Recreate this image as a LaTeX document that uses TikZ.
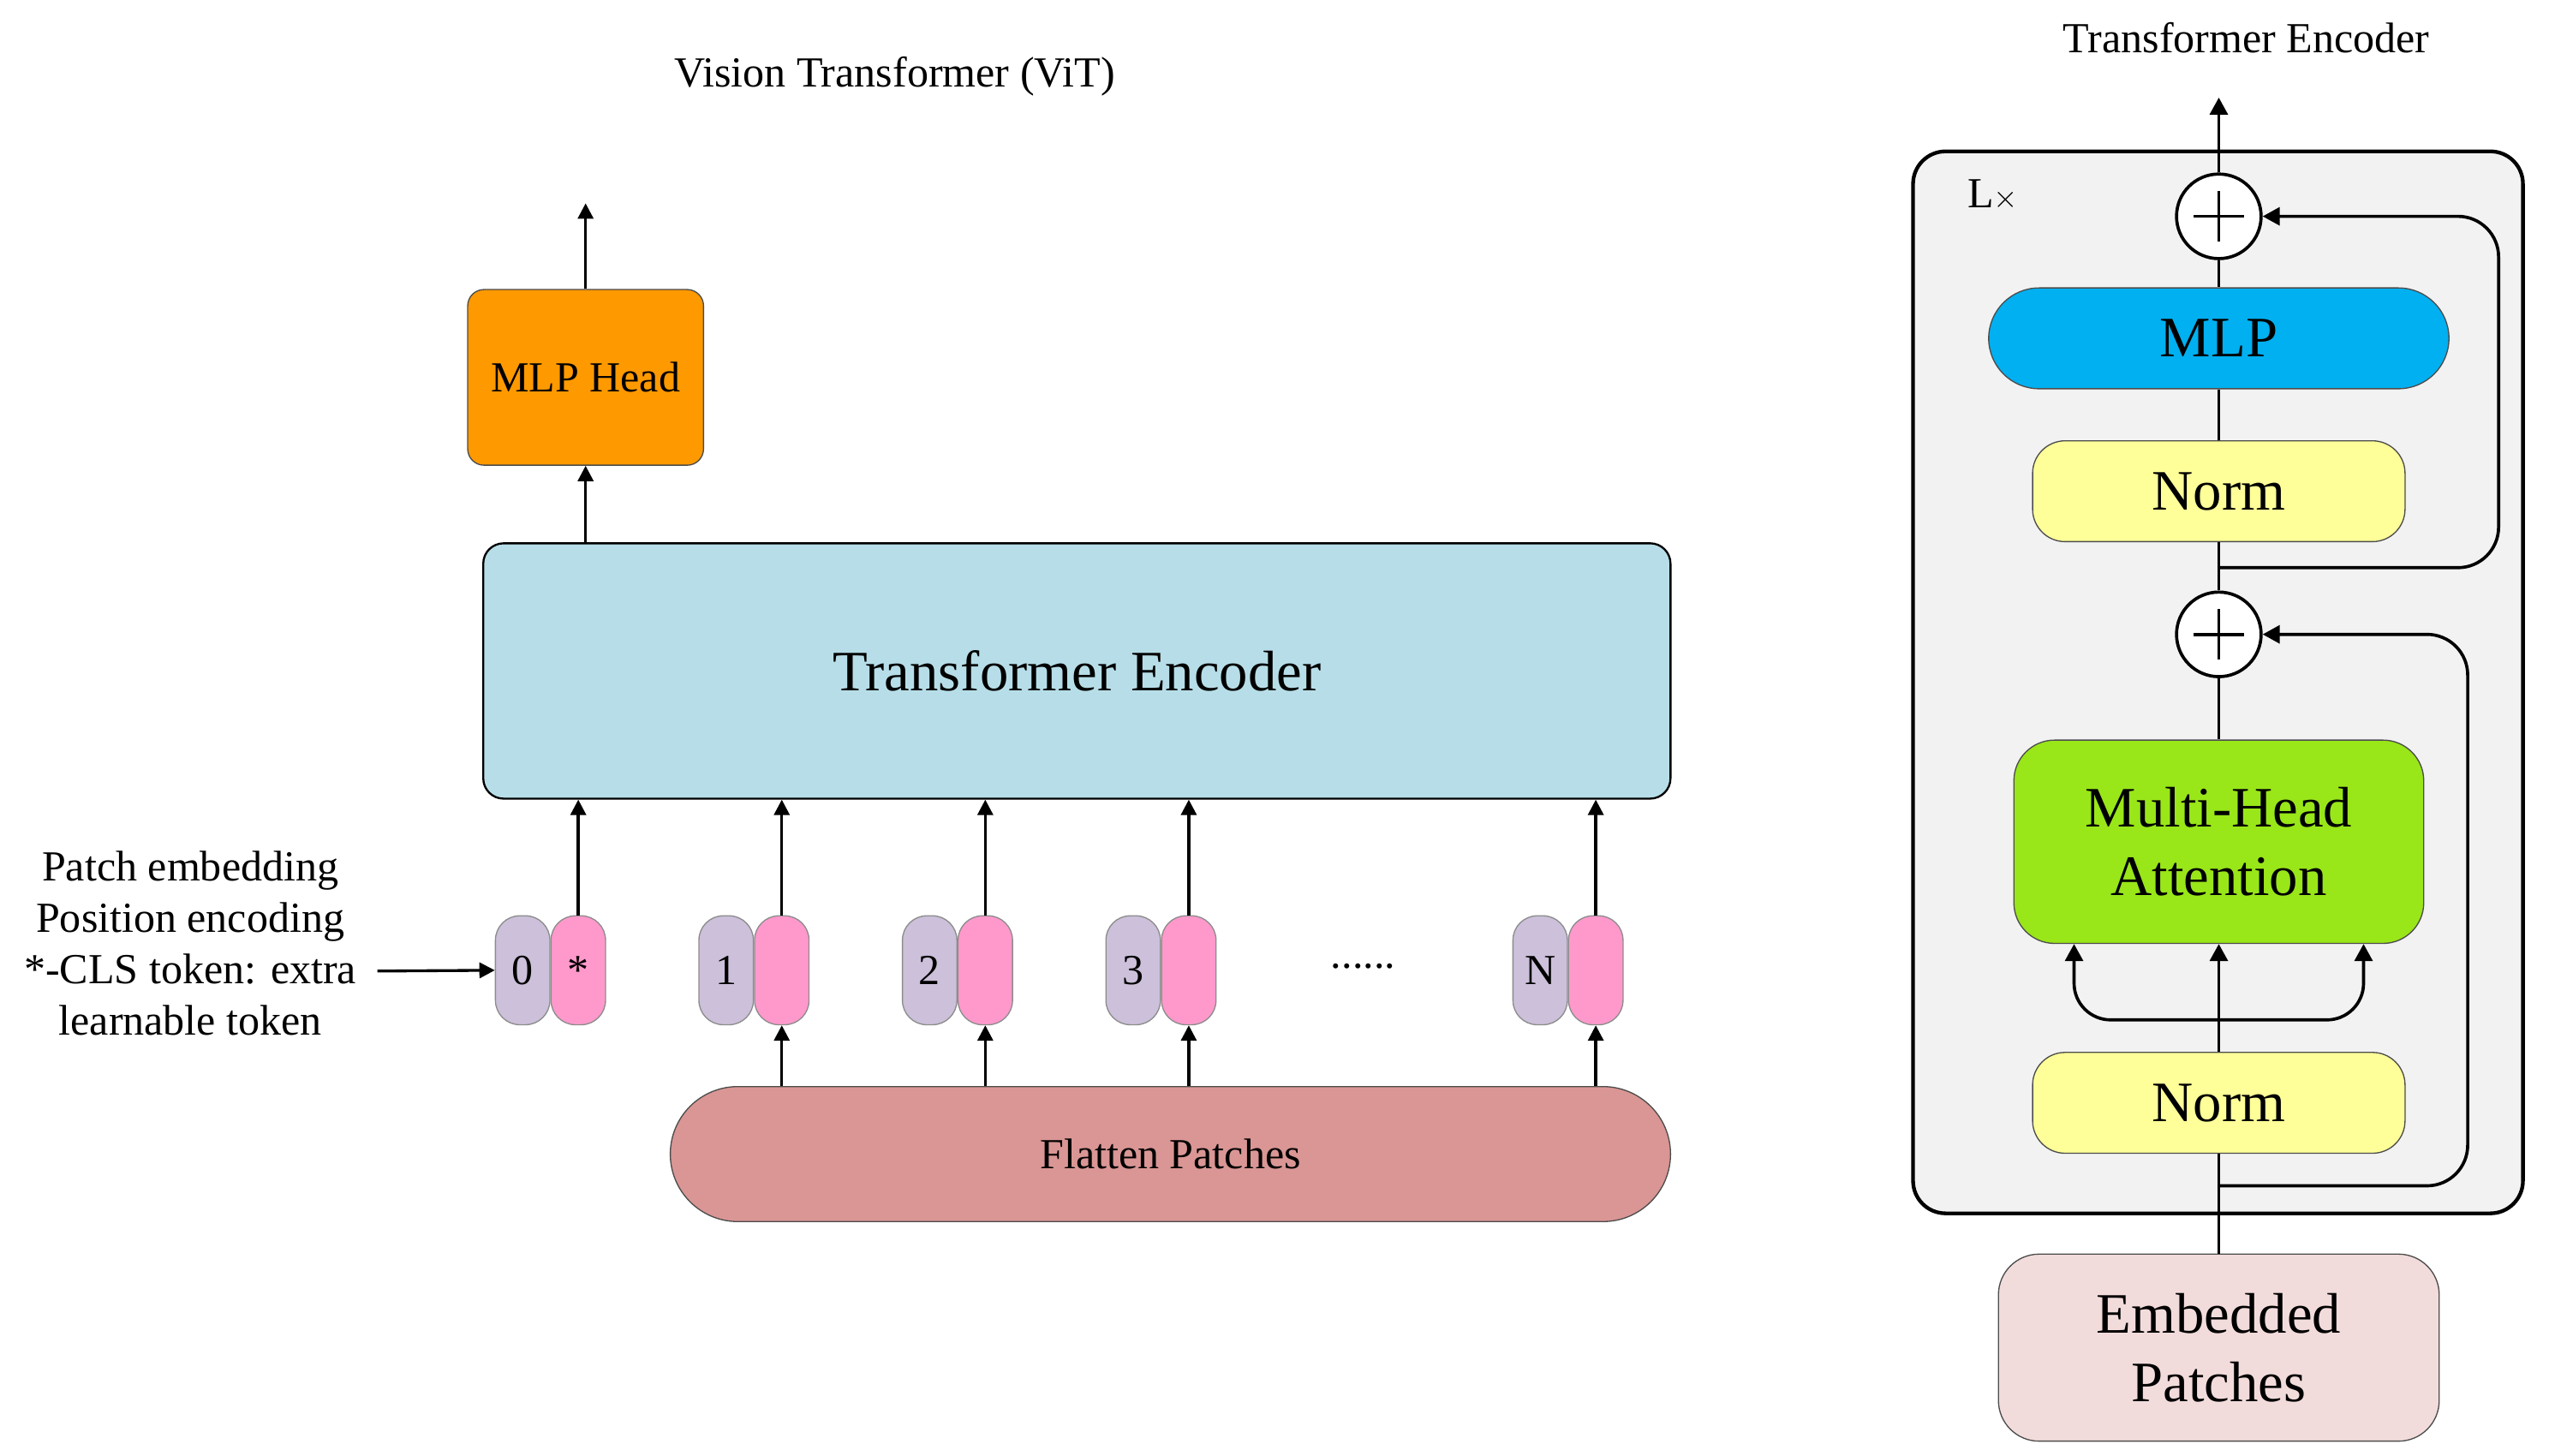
\documentclass[tikz,border=0pt]{standalone}
\usepackage{fontspec}
\setmainfont{Liberation Serif}
\usetikzlibrary{positioning, arrows.meta}
\definecolor{headorange}{HTML}{FF9900}
\definecolor{encblue}{HTML}{B7DEE8}
\definecolor{flatred}{HTML}{D99694}
\definecolor{pospurple}{HTML}{CCC0DA}
\definecolor{tokpink}{HTML}{FF99CC}
\definecolor{encgray}{HTML}{F2F2F2}
\definecolor{mlpblue}{HTML}{00B0F0}
\definecolor{normyellow}{HTML}{FFFF99}
\definecolor{attgreen}{HTML}{99E619}
\definecolor{embpink}{HTML}{F2DCDB}
\tikzset{flecha/.style={line width=1pt,-{Triangle[length=0.19cm,width=0.19cm]}}}
\tikzset{flecha2/.style={line width=1.1pt,-{Triangle[length=0.21cm,width=0.22cm]}}}
\tikzset{linea/.style={line width=1.1pt}}
\tikzset{caja/.style={draw=black!70,line width=0.4pt}}
\tikzset{grande/.style={font=\fontsize{20}{24}\selectfont}}
\tikzset{ficha/.style={draw=black!45,line width=0.4pt,minimum width=0.67cm,minimum height=1.34cm,rounded corners=0.3cm}}
\tikzset{suma/.style={circle,draw,fill=white,line width=1.1pt,minimum size=1.04cm,
  path picture={\draw[line width=1.1pt] ([xshift=-0.31cm]path picture bounding box.center) -- ([xshift=0.31cm]path picture bounding box.center)
    ([yshift=-0.31cm]path picture bounding box.center) -- ([yshift=0.31cm]path picture bounding box.center);}}}

\begin{document}
\begin{tikzpicture}[
                x=0.02cm, y=-0.02cm,
                every node/.style={inner sep=0pt,font=\fontsize{15}{18}\selectfont}
            ]
                \useasboundingbox (0,0) rectangle (1567,895);

                % Vision Transformer
                \node (titulo) at (550,47) {Vision Transformer (ViT)};
                \node[caja,fill=headorange,minimum width=2.9cm,minimum height=2.16cm,rounded corners=0.2cm] (head) at (360,232) {MLP Head};
                \node[caja,draw=black,line width=0.7pt,fill=encblue,minimum width=14.6cm,minimum height=3.14cm,rounded corners=0.25cm,grande] (te) at (662,412.5) {Transformer Encoder};
                \node[caja,fill=flatred,minimum width=12.3cm,minimum height=1.66cm,rounded corners=0.83cm] (flat) at (719.5,709.5) {Flatten Patches};

                \coordinate (salida) at (360,125);
                \draw[flecha] (head.north) -- (salida);
                \draw[flecha] (head.south |- te.north) -- (head.south);

                \foreach \i/\n/\s in {0/0/*,1/1/{},2/2/{},3/3/{},5/N/{}} {
                    \node[ficha,fill=tokpink] (tok\i) at (355.5+125.1*\i,596.5) {\s};
                    \node[ficha,fill=pospurple,left=0pt of tok\i] (pos\i) {\n};
                    \draw[flecha] (tok\i.north) -- (tok\i.north |- te.south);
                }
                \foreach \i in {1,2,3,5}
                    \draw[flecha] (flat.north -| tok\i.south) -- (tok\i.south);
                \node (puntos) at (838,594) {......};

                \node[align=center] (nota) at (117,580) {Patch embedding\\Position encoding\\*-CLS token: extra\\learnable token};
                \coordinate (cls) at (232,597);
                \draw[flecha] (cls) -- (pos0.west);

                % Transformer Encoder
                \node (titulo2) at (1381,23) {Transformer Encoder};
                \node[draw,line width=1.3pt,fill=encgray,minimum width=7.5cm,minimum height=13.06cm,rounded corners=0.4cm] (bloque) at (1363.5,419.5) {};
                \node (rep) at (1225,120) {L{\fontsize{11}{11}\selectfont$\times$}};

                \node[suma] (add2) at (1364,133) {};
                \node[caja,fill=mlpblue,minimum width=5.66cm,minimum height=1.24cm,rounded corners=0.62cm,grande] (mlp) at (1364,208) {MLP};
                \node[caja,fill=normyellow,minimum width=4.58cm,minimum height=1.24cm,rounded corners=0.4cm,grande] (norm2) at (1364,302) {Norm};
                \node[suma] (add1) at (1364,390) {};
                \node[caja,fill=attgreen,minimum width=5.04cm,minimum height=2.5cm,rounded corners=0.5cm,grande,align=center] (mha) at (1364,517.5) {Multi-Head\\Attention};
                \node[caja,fill=normyellow,minimum width=4.58cm,minimum height=1.24cm,rounded corners=0.4cm,grande] (norm1) at (1364,678) {Norm};
                \node[caja,fill=embpink,minimum width=5.42cm,minimum height=2.3cm,rounded corners=0.5cm,grande,align=center] (emb) at (1364,828.5) {Embedded\\Patches};

                \coordinate (salida2) at (1364,60);
                \draw[flecha2] (add2.north) -- (salida2);
                \draw[linea] (add2.south) -- (mlp.north);
                \draw[linea] (mlp.south) -- (norm2.north);
                \draw[linea] (norm2.south) -- (add1.north);
                \draw[linea] (add1.south) -- (mha.north);
                \draw[linea] (emb.north) -- (norm1.south);
                \draw[flecha2] (norm1.north) -- (mha.south);

                \coordinate (split) at (1364,627);
                \draw[flecha2,rounded corners=0.45cm] (split) -| ([xshift=-1.78cm]mha.south);
                \draw[flecha2,rounded corners=0.45cm] (split) -| ([xshift=1.78cm]mha.south);

                \coordinate (r2) at (1364,349);
                \draw[flecha2,rounded corners=0.5cm] (r2) -- ++(172,0) |- (add2.east);
                \coordinate (r1) at (1364,729);
                \draw[flecha2,rounded corners=0.5cm] (r1) -- ++(153,0) |- (add1.east);
            \end{tikzpicture}
\end{document}
